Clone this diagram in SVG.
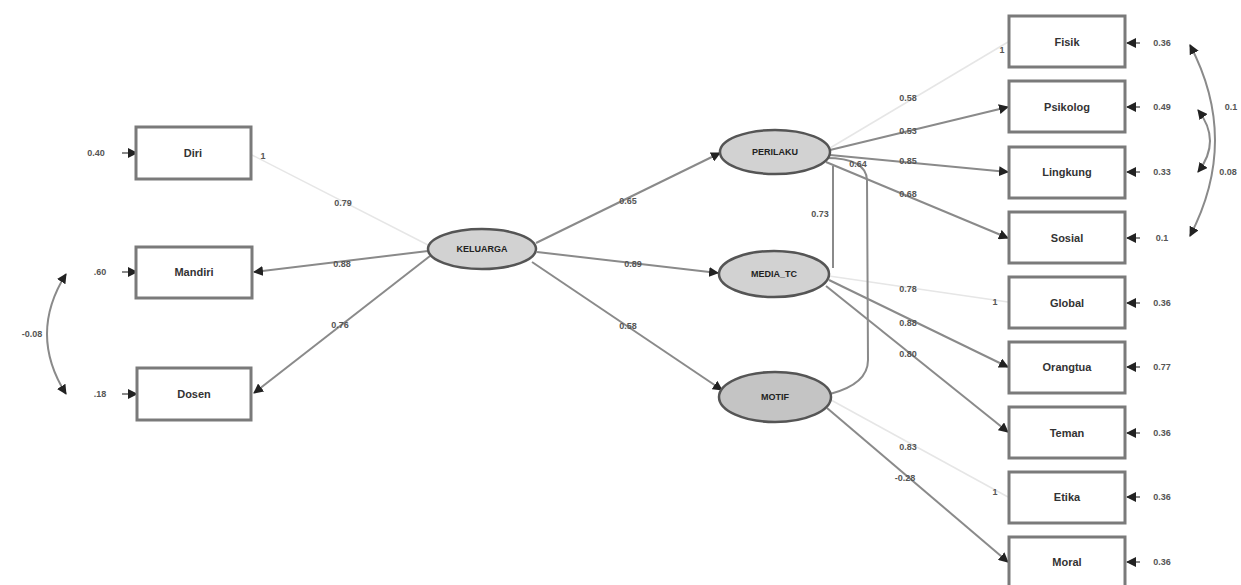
<svg xmlns="http://www.w3.org/2000/svg" width="1241" height="585" viewBox="0 0 1241 585">
<defs>
<marker id="ah" viewBox="0 0 10 10" refX="9" refY="5" markerWidth="5" markerHeight="5" orient="auto-start-reverse"><path d="M0,0 L10,5 L0,10 z" fill="#222"/></marker>
<style>
.box{fill:#fff;stroke:#7a7a7a;stroke-width:3}
.ell{fill:#d2d2d2;stroke:#555;stroke-width:2.5}
.t{font-family:"Liberation Sans",Arial,sans-serif;font-size:11px;font-weight:bold;fill:#333;text-anchor:middle;dominant-baseline:central}
.et{font-family:"Liberation Sans",Arial,sans-serif;font-size:9px;font-weight:bold;fill:#222;text-anchor:middle;dominant-baseline:central}
.n{font-family:"Liberation Sans",Arial,sans-serif;font-size:9px;font-weight:bold;fill:#555;text-anchor:middle;dominant-baseline:central}
.c{fill:none;stroke:#8a8a8a;stroke-width:2}
.a{fill:none;stroke:#8a8a8a;stroke-width:2;marker-end:url(#ah)}
.b{fill:none;stroke:#8a8a8a;stroke-width:2;marker-end:url(#ah);marker-start:url(#ah)}
.f{fill:none;stroke:#e6e6e6;stroke-width:1.5}
</style>
</defs>
<rect width="1241" height="585" fill="#fff"/>
<g id="connectors">
<line class="f" x1="252" y1="155" x2="428" y2="245"/>
<line class="a" x1="428" y1="251" x2="254" y2="272"/>
<line class="a" x1="430" y1="256" x2="254" y2="393"/>
<line class="a" x1="536" y1="243" x2="720" y2="153"/>
<line class="a" x1="537" y1="252" x2="718" y2="273"/>
<line class="a" x1="532" y1="262" x2="722" y2="390"/>
<line class="f" x1="830" y1="148" x2="1008" y2="42"/>
<line class="a" x1="830" y1="150" x2="1008" y2="107"/>
<line class="a" x1="830" y1="155" x2="1008" y2="172"/>
<line class="a" x1="826" y1="162" x2="1008" y2="238"/>
<line class="f" x1="829" y1="276" x2="1008" y2="302"/>
<line class="a" x1="829" y1="280" x2="1008" y2="367"/>
<line class="a" x1="826" y1="286" x2="1008" y2="432"/>
<line class="f" x1="831" y1="400" x2="1008" y2="497"/>
<line class="a" x1="827" y1="408" x2="1008" y2="562"/>
<path class="c" d="M833,166 L833,268"/>
<path class="c" d="M826,158 Q866,158 867,180 L868,360 Q868,384 830,394"/>
<path class="b" d="M66,274 Q28,334 66,394"/>
<path class="b" d="M1190,45 Q1240,140 1190,236"/>
<path class="b" d="M1198,110 Q1222,141 1198,172"/>
<line class="a" x1="122" y1="153" x2="137" y2="153"/>
<line class="a" x1="122" y1="272" x2="137" y2="272"/>
<line class="a" x1="122" y1="394" x2="137" y2="394"/>
<line class="a" x1="1140" y1="43" x2="1127" y2="43"/>
<line class="a" x1="1140" y1="107" x2="1127" y2="107"/>
<line class="a" x1="1140" y1="172" x2="1127" y2="172"/>
<line class="a" x1="1140" y1="238" x2="1127" y2="238"/>
<line class="a" x1="1140" y1="303" x2="1127" y2="303"/>
<line class="a" x1="1140" y1="367" x2="1127" y2="367"/>
<line class="a" x1="1140" y1="433" x2="1127" y2="433"/>
<line class="a" x1="1140" y1="497" x2="1127" y2="497"/>
<line class="a" x1="1140" y1="562" x2="1127" y2="562"/>
</g>
<g id="labels">
<text class="n" x="96" y="153">0.40</text>
<text class="n" x="100" y="272">.60</text>
<text class="n" x="32" y="334">-0.08</text>
<text class="n" x="100" y="394">.18</text>
<text class="n" x="263" y="156">1</text>
<text class="n" x="343" y="203">0.79</text>
<text class="n" x="342" y="264">0.88</text>
<text class="n" x="340" y="325">0.76</text>
<text class="n" x="628" y="201">0.65</text>
<text class="n" x="633" y="264">0.89</text>
<text class="n" x="628" y="326">0.58</text>
<text class="n" x="820" y="214">0.73</text>
<text class="n" x="858" y="164">0.64</text>
<text class="n" x="908" y="98">0.58</text>
<text class="n" x="908" y="131">0.53</text>
<text class="n" x="908" y="161">0.85</text>
<text class="n" x="908" y="194">0.68</text>
<text class="n" x="1002" y="50">1</text>
<text class="n" x="908" y="289">0.78</text>
<text class="n" x="908" y="323">0.88</text>
<text class="n" x="908" y="354">0.80</text>
<text class="n" x="995" y="302">1</text>
<text class="n" x="908" y="447">0.83</text>
<text class="n" x="905" y="478">-0.28</text>
<text class="n" x="995" y="492">1</text>
<text class="n" x="1162" y="43">0.36</text>
<text class="n" x="1162" y="107">0.49</text>
<text class="n" x="1231" y="107">0.1</text>
<text class="n" x="1162" y="172">0.33</text>
<text class="n" x="1228" y="172">0.08</text>
<text class="n" x="1162" y="238">0.1</text>
<text class="n" x="1162" y="303">0.36</text>
<text class="n" x="1162" y="367">0.77</text>
<text class="n" x="1162" y="433">0.36</text>
<text class="n" x="1162" y="497">0.36</text>
<text class="n" x="1162" y="562">0.36</text>
</g>
<g id="n-diri"><rect class="box" x="136" y="127" width="115" height="52"/><text class="t" x="193" y="153">Diri</text></g>
<g id="n-mandiri"><rect class="box" x="136" y="247" width="116" height="51"/><text class="t" x="194" y="272">Mandiri</text></g>
<g id="n-dosen"><rect class="box" x="137" y="368" width="114" height="52"/><text class="t" x="194" y="394">Dosen</text></g>
<g id="n-center"><ellipse class="ell" cx="482" cy="249" rx="54" ry="20"/><text class="et" x="482" y="249">KELUARGA</text></g>
<g id="n-top"><ellipse class="ell" cx="775" cy="152" rx="55" ry="22"/><text class="et" x="775" y="152">PERILAKU</text></g>
<g id="n-mid"><ellipse class="ell" cx="774" cy="274" rx="55" ry="23"/><text class="et" x="774" y="274">MEDIA_TC</text></g>
<g id="n-bot"><ellipse class="ell" cx="775" cy="397" rx="56" ry="25" style="fill:#c4c4c4"/><text class="et" x="775" y="397">MOTIF</text></g>
<g id="r1"><rect class="box" x="1009" y="16" width="116" height="51"/><text class="t" x="1067" y="42">Fisik</text></g>
<g id="r2"><rect class="box" x="1009" y="81" width="116" height="51"/><text class="t" x="1067" y="107">Psikolog</text></g>
<g id="r3"><rect class="box" x="1009" y="147" width="116" height="51"/><text class="t" x="1067" y="172">Lingkung</text></g>
<g id="r4"><rect class="box" x="1009" y="212" width="116" height="51"/><text class="t" x="1067" y="238">Sosial</text></g>
<g id="r5"><rect class="box" x="1009" y="277" width="116" height="51"/><text class="t" x="1067" y="303">Global</text></g>
<g id="r6"><rect class="box" x="1009" y="342" width="116" height="51"/><text class="t" x="1067" y="367">Orangtua</text></g>
<g id="r7"><rect class="box" x="1009" y="407" width="116" height="51"/><text class="t" x="1067" y="433">Teman</text></g>
<g id="r8"><rect class="box" x="1009" y="472" width="116" height="51"/><text class="t" x="1067" y="497">Etika</text></g>
<g id="r9"><rect class="box" x="1009" y="537" width="116" height="51"/><text class="t" x="1067" y="562">Moral</text></g>
</svg>
